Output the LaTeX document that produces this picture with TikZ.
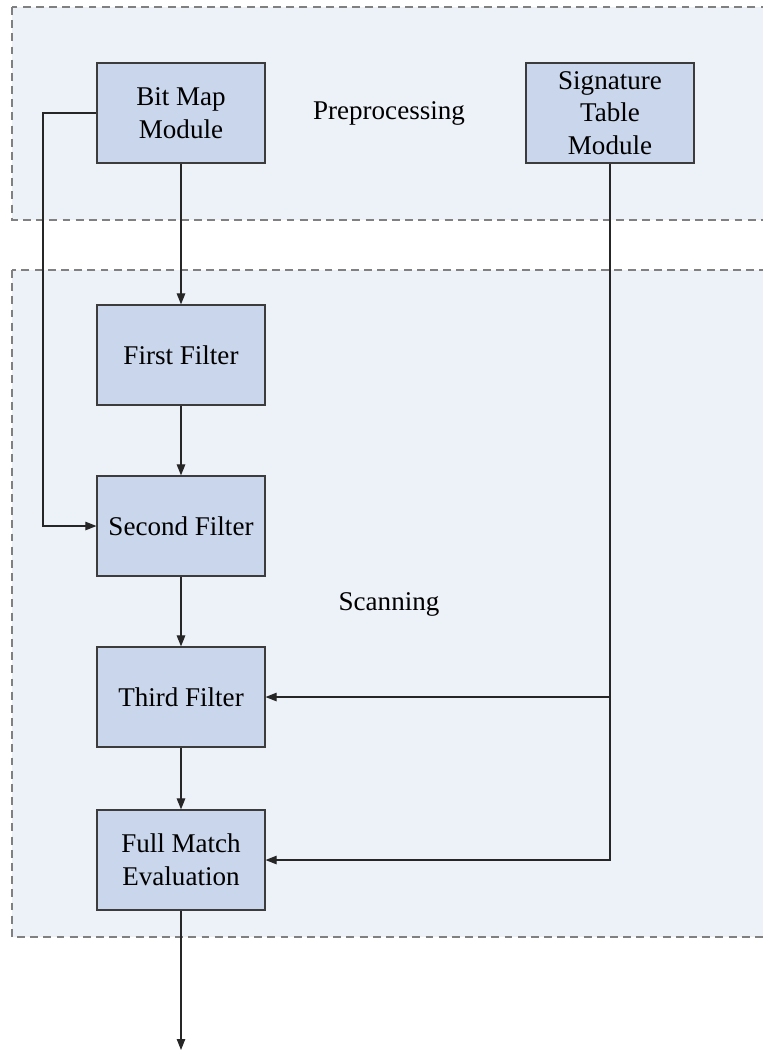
\documentclass[tikz,border=0pt]{standalone}
\usepackage{fontspec}
\setmainfont{Liberation Serif}
\usetikzlibrary{arrows.meta}

\definecolor{boxfill}{RGB}{201,214,235}
\definecolor{boxline}{RGB}{60,60,60}
\definecolor{regionfill}{RGB}{237,241,248}
\definecolor{regionline}{RGB}{128,128,128}

\begin{document}
\begin{tikzpicture}[x=0.02cm,y=-0.02cm,>={Triangle[length=2.2mm,width=1.7mm]},
    block/.style={draw=boxline,fill=boxfill,line width=0.7pt,minimum width=3.36cm,
      minimum height=2cm,align=center,inner sep=0pt,
      font=\fontsize{15.4}{18.6}\selectfont},
    region/.style={fill=regionfill,draw=regionline,line width=0.8pt,
      dash pattern=on 4.5pt off 3pt},
    label/.style={font=\fontsize{15.4}{18.6}\selectfont},
    link/.style={line width=0.6pt,draw=black!85}]
    \clip (0,0) rectangle (763,1052);
    % the two stages
    \draw[region] (12,7) rectangle (790,220);
    \draw[region] (12,270) rectangle (790,937);
    \node[label] (pre) at (389,113) {Preprocessing};
    \node[label] (scan) at (389,604) {Scanning};
    % modules
    \node[block] (bitmap) at (181,113) {Bit Map\\Module};
    \node[block] (sigtab) at (610,113) {Signature\\Table\\Module};
    \node[block] (first) at (181,355) {First Filter};
    \node[block] (second) at (181,526) {Second Filter};
    \node[block] (third) at (181,697) {Third Filter};
    \node[block] (full) at (181,860) {Full Match\\Evaluation};
    \coordinate (out) at (181,1050);
    \coordinate (by) at (43,113);
    % connectors
    \draw[link,->] (bitmap) -- (first);
    \draw[link,->] (first) -- (second);
    \draw[link,->] (second) -- (third);
    \draw[link,->] (third) -- (full);
    \draw[link,->] (full) -- (out);
    \draw[link,->] (bitmap.west) -- (by) |- (second.west);
    \draw[link,->] (sigtab.south) |- (third.east);
    \draw[link,->] (sigtab.south) |- (full.east);
  \end{tikzpicture}
\end{document}
